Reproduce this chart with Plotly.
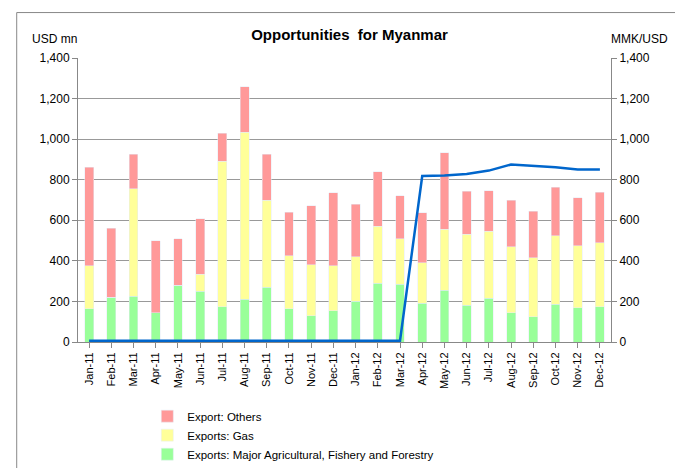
import plotly.graph_objs as go

months = ["Jan-11", "Feb-11", "Mar-11", "Apr-11", "May-11", "Jun-11", "Jul-11", "Aug-11",
          "Sep-11", "Oct-11", "Nov-11", "Dec-11", "Jan-12", "Feb-12", "Mar-12", "Apr-12",
          "May-12", "Jun-12", "Jul-12", "Aug-12", "Sep-12", "Oct-12", "Nov-12", "Dec-12"]

# values in USD mn
agri = [165, 220, 225, 145, 280, 250, 175, 210, 270, 165, 130, 155,
        200, 290, 285, 190, 255, 180, 215, 145, 125, 185, 170, 175]
gas = [210, 0, 530, 0, 0, 85, 715, 825, 430, 260, 250, 220,
       220, 280, 225, 200, 300, 350, 330, 325, 290, 340, 305, 315]
others = [487, 340, 170, 355, 230, 273, 140, 223, 225, 215, 292, 360,
          260, 270, 210, 247, 377, 212, 200, 230, 230, 237, 235, 248]
forex = [6.7, 6.6, 6.5, 6.4, 6.3, 6.3, 6.2, 6.2, 6.3, 6.4, 6.5, 6.6,
         6.6, 6.6, 6.5, 818, 821, 828, 845, 875, 870, 862, 850, 850]

ticks = [0, 200, 400, 600, 800, 1000, 1200, 1400]
tick_text = ["0", "200", "400", "600", "800", "1,000", "1,200", "1,400"]

fig = go.Figure()
fig.add_trace(go.Bar(x=months, y=agri, name="Exports: Major Agricultural, Fishery and Forestry",
                     marker_color="#99FF99", width=0.4, legendrank=3))
fig.add_trace(go.Bar(x=months, y=gas, name="Exports: Gas",
                     marker_color="#FFFF99", width=0.4, legendrank=2))
fig.add_trace(go.Bar(x=months, y=others, name="Export: Others",
                     marker_color="#FF9999", width=0.4, legendrank=1))
fig.add_trace(go.Scatter(x=months, y=forex, name="Forex: Official Rate: Period Average: MMK to US Dollar (RHS)",
                         mode="lines", line=dict(color="#0066CC", width=2.5), yaxis="y2", legendrank=4))

fig.update_layout(
    barmode="stack",
    width=683, height=468,
    paper_bgcolor="white", plot_bgcolor="white",
    font=dict(family="Liberation Sans, Arial", size=12, color="black"),
    title=dict(text="<b>Opportunities  for Myanmar</b>", x=0.5, y=0.955, xanchor="center",
               font=dict(size=15)),
    margin=dict(l=70, r=80, t=50, b=134, autoexpand=False),
    xaxis=dict(tickangle=-90, showline=True, linecolor="#888", ticks="outside",
               tickcolor="#888", ticklen=5, tickfont=dict(size=11)),
    yaxis=dict(range=[0, 1400], tickvals=ticks, ticktext=tick_text, showgrid=True,
               gridcolor="#999", showline=True, linecolor="#888", ticks="outside",
               tickcolor="#888", zeroline=False, tickfont=dict(size=12)),
    yaxis2=dict(range=[0, 1400], tickvals=ticks, ticktext=tick_text, overlaying="y",
                side="right", showgrid=False, showline=True, linecolor="#888",
                ticks="outside", tickcolor="#888", tickfont=dict(size=12)),
    legend=dict(orientation="v", x=0.13, y=-0.21, xanchor="left", yanchor="top",
                traceorder="normal", font=dict(size=11.5), tracegroupgap=0),
    shapes=[dict(type="rect", xref="paper", yref="paper", x0=-0.115, x1=1.125,
                 y0=-0.475, y1=1.16, line=dict(color="#888", width=1))],
    annotations=[
        dict(text="USD mn", xref="paper", yref="paper", x=-0.09, y=1.1,
             showarrow=False, xanchor="left", font=dict(size=12)),
        dict(text="MMK/USD", xref="paper", yref="paper", x=1.11, y=1.1,
             showarrow=False, xanchor="right", font=dict(size=12)),
    ],
)

fig.write_html("out.html")
